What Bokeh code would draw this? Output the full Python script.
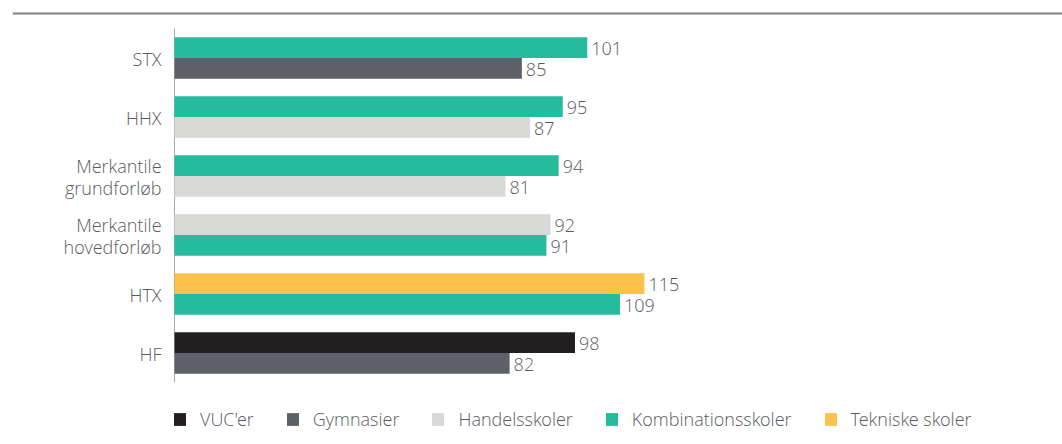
from bokeh.plotting import figure
from bokeh.models import ColumnDataSource, Range1d, Legend, LegendItem, Span
from bokeh.core.properties import value
from bokeh.embed import file_html
from bokeh.resources import INLINE

# ---- data ----
categories = ["STX", "HHX", "Merkantile\ngrundforløb", "Merkantile\nhovedforløb", "HTX", "HF"]
top_series = ["Kombinationsskoler", "Kombinationsskoler", "Kombinationsskoler",
              "Handelsskoler", "Tekniske skoler", "VUC'er"]
top_values = [101, 95, 94, 92, 115, 98]
bottom_series = ["Gymnasier", "Handelsskoler", "Handelsskoler",
                 "Kombinationsskoler", "Kombinationsskoler", "Gymnasier"]
bottom_values = [85, 87, 81, 91, 109, 82]
legend_order = ["VUC'er", "Gymnasier", "Handelsskoler", "Kombinationsskoler", "Tekniske skoler"]
series_colors = {
    "VUC'er": "#231f20",
    "Gymnasier": "#5e6169",
    "Handelsskoler": "#d9d9d7",
    "Kombinationsskoler": "#24bc9c",
    "Tekniske skoler": "#fdc14c",
}

FONT = "Open Sans Light"
TEXT_COLOR = "#5a5b5f"
FS = "18px"

n = len(categories)
pos = [n - 1 - i for i in range(n)]          # first category at the top
BAR_H = 0.35
OFF = BAR_H / 2

top_src = ColumnDataSource(dict(y=[v + OFF for v in pos], val=top_values,
                                label=[str(v) for v in top_values],
                                color=[series_colors[s] for s in top_series]))
bot_src = ColumnDataSource(dict(y=[v - OFF for v in pos], val=bottom_values,
                                label=[str(v) for v in bottom_values],
                                color=[series_colors[s] for s in bottom_series]))
cat_src = ColumnDataSource(dict(y=pos, cat=categories, x=[0] * n))

# 1 y-unit = 59 px, 1 x-unit ~ 4.086 px; value 0 at x=174 px
p = figure(width=1062, height=444, output_backend="svg", toolbar_location=None,
           x_range=Range1d(-39.65, 217.3), y_range=Range1d(-1.551, 5.975),
           min_border_left=12, min_border_top=0, min_border_bottom=0, min_border_right=0)
p.axis.visible = False
p.grid.visible = False
p.outline_line_color = None

# top rule
p.add_layout(Span(location=5.754, dimension="width", line_color="#808285", line_width=2))

# value axis baseline
p.segment(x0=0, x1=0, y0=-0.5, y1=n - 0.5, line_color="#a7a9ac", line_width=1)

r_top = p.hbar(y="y", right="val", left=0, height=BAR_H,
               fill_color="color", line_color=None, source=top_src)
r_bot = p.hbar(y="y", right="val", left=0, height=BAR_H,
               fill_color="color", line_color=None, source=bot_src)

for src in (top_src, bot_src):
    p.text(x="val", y="y", text="label", source=src,
           x_offset=4, y_offset=1, text_align="left", text_baseline="middle",
           text_font=value(FONT), text_font_size=FS, text_color=TEXT_COLOR)

# category labels
p.text(x="x", y="y", text="cat", source=cat_src, x_offset=-13, y_offset=1,
       text_align="right", text_baseline="middle", text_line_height=0.95,
       text_font=value(FONT), text_font_size=FS, text_color=TEXT_COLOR)

items = []
for s in legend_order:
    if s in top_series:
        items.append(LegendItem(label=s, renderers=[r_top], index=top_series.index(s)))
    else:
        items.append(LegendItem(label=s, renderers=[r_bot], index=bottom_series.index(s)))
legend = Legend(items=items, orientation="horizontal", location=(160, 13),
                glyph_width=15, glyph_height=16, label_height=16, label_standoff=13,
                spacing=31, padding=0, margin=0, border_line_color=None,
                background_fill_alpha=0,
                label_text_font=FONT, label_text_font_size=FS,
                label_text_color=TEXT_COLOR)
p.add_layout(legend, "center")

open("out.html", "w").write(file_html(p, INLINE))
